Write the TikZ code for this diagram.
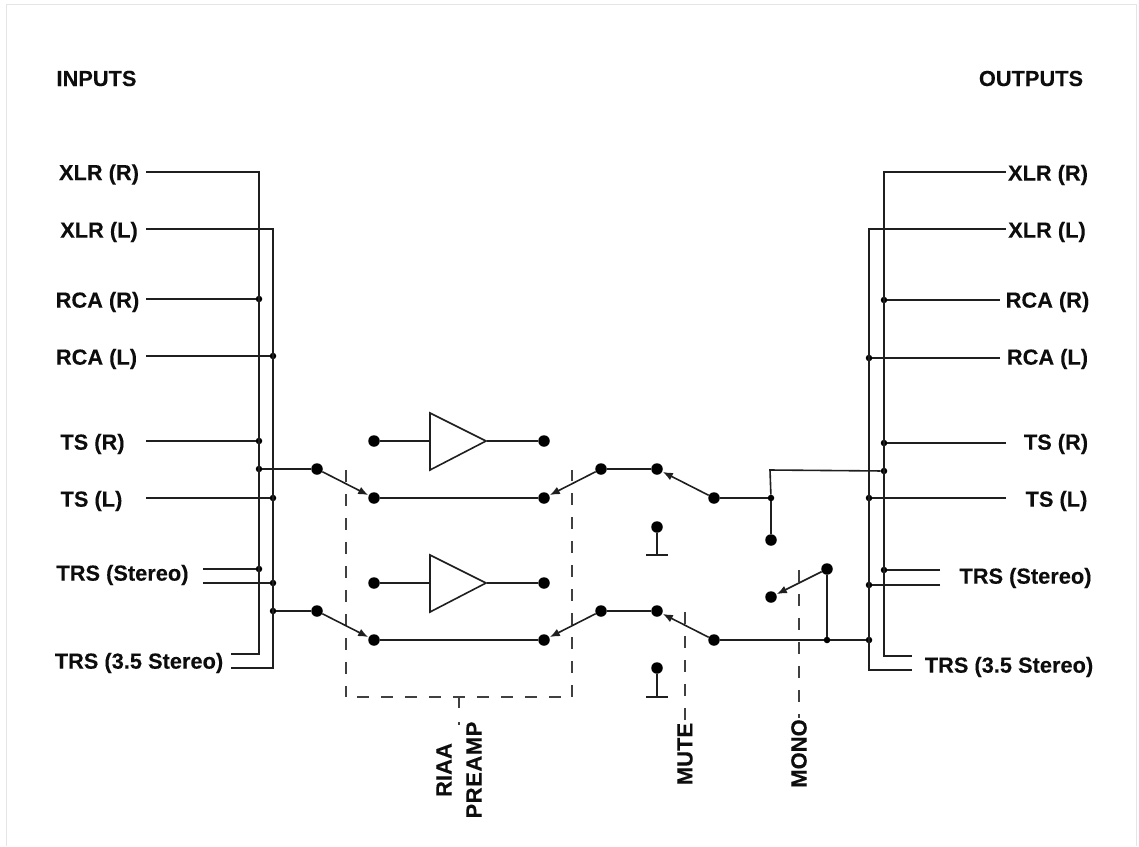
\documentclass[tikz,border=0pt]{standalone}
\usepackage{fontspec}
\setmainfont[BoldFeatures={FakeBold=0.12}]{Liberation Sans}
\usetikzlibrary{arrows.meta}
\tikzset{
  wire/.style={line width=1.6pt,draw=black!88},
  bigdot/.style={circle,fill=black,inner sep=0pt,minimum size=11.5pt},
  jdot/.style={circle,fill=black,inner sep=0pt,minimum size=6.5pt},
  swarm/.style={wire,-{Latex[length=10pt,width=8pt]},shorten >=0.5pt},
  amp/.style={draw=black!88,line width=1.6pt,fill=white},
  dash box/.style={line width=1.3pt,draw=black!75,dash pattern=on 12pt off 12pt},
  lbl/.style={font=\fontsize{21.8}{24}\selectfont\bfseries,inner sep=0pt,text=black!95},
  vlbl/.style={lbl,rotate=90,align=center,font=\fontsize{22}{30}\selectfont\bfseries},
  frameedge/.style={line width=1pt,draw=black!10},
}
\begin{document}
\begin{tikzpicture}[x=1pt,y=-1pt]
\useasboundingbox (0,0) rectangle (1139,846);
\fill[white] (0,0) rectangle (1139,846);
\draw[frameedge] (6,846) -- (6,4) -- (1136,4) -- (1136,846);

% headings
\node[lbl] (inputs) at (96.5,78.5) {INPUTS};
\node[lbl] (outputs) at (1031,78.5) {OUTPUTS};

% left labels
\node[lbl] (lXR) at (99,174.5) {XLR (R)};
\node[lbl] (lXL) at (99,232) {XLR (L)};
\node[lbl] (lRR) at (97.5,302) {RCA (R)};
\node[lbl] (lRL) at (96.5,359) {RCA (L)};
\node[lbl] (lTR) at (92.5,444) {TS (R)};
\node[lbl] (lTL) at (91.5,501) {TS (L)};
\node[lbl] (lTS) at (122.5,575) {TRS (Stereo)};
\node[lbl] (lT3) at (139,663) {TRS (3.5 Stereo)};

% right labels
\node[lbl] (rXR) at (1048,175) {XLR (R)};
\node[lbl] (rXL) at (1047,232) {XLR (L)};
\node[lbl] (rRR) at (1047.5,302) {RCA (R)};
\node[lbl] (rRL) at (1047.5,359) {RCA (L)};
\node[lbl] (rTR) at (1056,444) {TS (R)};
\node[lbl] (rTL) at (1056.5,501) {TS (L)};
\node[lbl] (rTS) at (1025.5,578) {TRS (Stereo)};
\node[lbl] (rT3) at (1009,667) {TRS (3.5 Stereo)};

% vertical labels
\node[vlbl] (lRIAA) at (459,770) {RIAA\\\addfontfeature{LetterSpace=2.5}PREAMP};
\node[vlbl] (lMUTE) at (685,754) {MUTE};
\node[vlbl] (lMONO) at (799,753.5) {MONO};

% free ends of wires, left
\coordinate (iXR) at (146,172);
\coordinate (iXL) at (146,229);
\coordinate (iRR) at (146,299);
\coordinate (iRL) at (146,356);
\coordinate (iTR) at (146,441);
\coordinate (iTL) at (146,498);
\coordinate (iTS1) at (203,569);
\coordinate (iTS2) at (203,583);
\coordinate (iT1) at (231,654);
\coordinate (iT2) at (231,668);
\coordinate (cA1) at (259,172);
\coordinate (cA2) at (259,654);
\coordinate (cB1) at (273,229);
\coordinate (cB2) at (273,668);

% free ends of wires, right
\coordinate (oXR) at (1006,172);
\coordinate (oXL) at (1006,229);
\coordinate (oRR) at (1000,300);
\coordinate (oRL) at (1000,358);
\coordinate (oTR) at (1006,443);
\coordinate (oTL) at (1006,498);
\coordinate (oTS1) at (940,570);
\coordinate (oTS2) at (940,585);
\coordinate (oT1) at (912,656);
\coordinate (oT2) at (912,670);
\coordinate (cC1) at (884,172);
\coordinate (cC2) at (884,656);
\coordinate (cD1) at (869,229);
\coordinate (cD2) at (869,670);

% left junctions
\node[jdot] (jA1) at (259,299) {};
\node[jdot] (jA2) at (259,441) {};
\node[jdot] (jA3) at (259,469) {};
\node[jdot] (jA4) at (259,569) {};
\node[jdot] (jB1) at (273,356) {};
\node[jdot] (jB2) at (273,498) {};
\node[jdot] (jB3) at (273,583) {};
\node[jdot] (jB4) at (273,611) {};

% right junctions
\node[jdot] (jC1) at (884,300) {};
\node[jdot] (jC2) at (884,443) {};
\node[jdot] (jC3) at (884,471) {};
\node[jdot] (jC4) at (884,570) {};
\node[jdot] (jD1) at (869,358) {};
\node[jdot] (jD2) at (869,498) {};
\node[jdot] (jD3) at (869,585) {};
\node[jdot] (jD4) at (869,640) {};
\node[jdot] (jM1) at (771,498) {};
\node[jdot] (jM2) at (827,640) {};
\coordinate (cM) at (770,470);

% contacts
\node[bigdot] (s1) at (317,469) {};
\node[bigdot] (s2) at (317,611) {};
\node[bigdot] (a1i) at (374,441) {};
\node[bigdot] (a1o) at (544,441) {};
\node[bigdot] (b1i) at (374,498) {};
\node[bigdot] (b1o) at (544,498) {};
\node[bigdot] (a2i) at (374,583) {};
\node[bigdot] (a2o) at (544,583) {};
\node[bigdot] (b2i) at (374,640) {};
\node[bigdot] (b2o) at (544,640) {};
\node[bigdot] (p1) at (601,469) {};
\node[bigdot] (p2) at (601,611) {};
\node[bigdot] (m1) at (657,469) {};
\node[bigdot] (m2) at (657,611) {};
\node[bigdot] (g1) at (657,527) {};
\node[bigdot] (g2) at (657,668) {};
\node[bigdot] (q1) at (714,498) {};
\node[bigdot] (q2) at (714,640) {};
\node[bigdot] (n1) at (771,540) {};
\node[bigdot] (n2) at (771,597) {};
\node[bigdot] (n3) at (827,569) {};

% ground bars
\coordinate (g1b) at (657,555);
\coordinate (g2b) at (657,697);
\coordinate (g1l) at (646,555);
\coordinate (g1r) at (668,555);
\coordinate (g2l) at (646,697);
\coordinate (g2r) at (668,697);

% dashed mechanical links
\coordinate (dA) at (346,470);
\coordinate (dB) at (346,697);
\coordinate (dC) at (572,697);
\coordinate (dD) at (572,470);
\coordinate (dE) at (459,697);
\coordinate (dF) at (459,725);
\coordinate (dG) at (685,612);
\coordinate (dH) at (685,724);
\coordinate (dI) at (799,570);
\coordinate (dJ) at (799,718);

\draw[dash box] (dA) -- (dB);
\draw[dash box] (dB) ++(11,0) -- (dC);
\draw[dash box] (dC) -- (dD);
\draw[dash box,dash pattern=on 11pt off 14pt] (dE) -- (dF);
\draw[dash box] (dG) -- (dH);
\draw[dash box] (dI) -- (dJ);

% left buses
\draw[wire] (iXR) -- (cA1) -- (cA2) -- (iT1);
\draw[wire] (iXL) -- (cB1) -- (cB2) -- (iT2);
\draw[wire] (iRR) -- (jA1);
\draw[wire] (iRL) -- (jB1);
\draw[wire] (iTR) -- (jA2);
\draw[wire] (iTL) -- (jB2);
\draw[wire] (iTS1) -- (jA4);
\draw[wire] (iTS2) -- (jB3);
\draw[wire] (jA3) -- (s1);
\draw[wire] (jB4) -- (s2);

% preamp stage
\draw[amp] (430,413) -- (430,470) -- (486,441) -- cycle;
\draw[amp] (430,555) -- (430,612) -- (486,583) -- cycle;
\node[inner sep=0pt] (amp1i) at (430,441) {};
\node[inner sep=0pt] (amp1o) at (486,441) {};
\node[inner sep=0pt] (amp2i) at (430,583) {};
\node[inner sep=0pt] (amp2o) at (486,583) {};
\draw[wire] (a1i) -- (amp1i);
\draw[wire] (amp1o) -- (a1o);
\draw[wire] (a2i) -- (amp2i);
\draw[wire] (amp2o) -- (a2o);
\draw[wire] (b1i) -- (b1o);
\draw[wire] (b2i) -- (b2o);

% switches
\draw[swarm] (s1) -- (b1i);
\draw[swarm] (s2) -- (b2i);
\draw[swarm] (p1) -- (b1o);
\draw[swarm] (p2) -- (b2o);
\draw[wire] (p1) -- (m1);
\draw[wire] (p2) -- (m2);
\draw[swarm] (q1) -- (m1);
\draw[swarm] (q2) -- (m2);
\draw[wire] (g1) -- (g1b);
\draw[wire] (g2) -- (g2b);
\draw[wire] (g1l) -- (g1r);
\draw[wire] (g2l) -- (g2r);

% mono
\draw[wire] (q1) -- (jM1);
\draw[wire] (jM1) -- (n1);
\draw[wire] (jM1) -- (cM) -- (jC3);
\draw[wire] (q2) -- (jM2);
\draw[wire] (jM2) -- (jD4);
\draw[wire] (jM2) -- (n3);
\draw[swarm] (n3) -- (n2);

% right buses
\draw[wire] (oXR) -- (cC1) -- (cC2) -- (oT1);
\draw[wire] (oXL) -- (cD1) -- (cD2) -- (oT2);
\draw[wire] (oRR) -- (jC1);
\draw[wire] (oRL) -- (jD1);
\draw[wire] (oTR) -- (jC2);
\draw[wire] (oTL) -- (jD2);
\draw[wire] (oTS1) -- (jC4);
\draw[wire] (oTS2) -- (jD3);
\end{tikzpicture}
\end{document}
